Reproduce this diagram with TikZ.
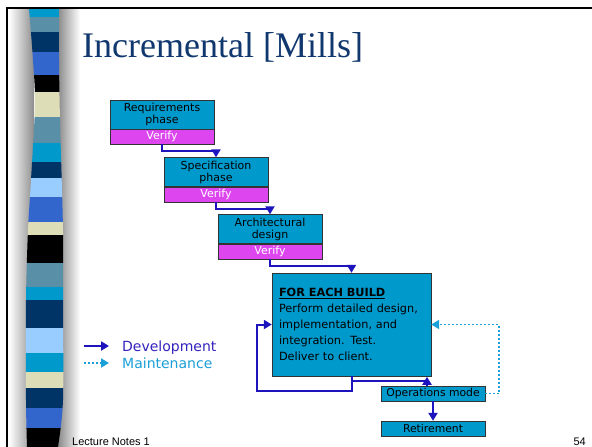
\documentclass[tikz,border=0pt]{standalone}
\usepackage{fontspec}
\usepackage{xcolor}
\usepackage{tikz}
\usetikzlibrary{arrows.meta,calc}

\newfontfamily\boxfont{DejaVu Sans}
\newfontfamily\titlefont{Liberation Serif}
\newfontfamily\footfont{Liberation Sans}

\definecolor{boxcyan}{RGB}{0,153,204}
\definecolor{verifymag}{RGB}{221,70,238}
\definecolor{devblue}{RGB}{30,20,190}
\definecolor{devtext}{RGB}{50,34,190}
\definecolor{maintblue}{RGB}{26,160,216}
\definecolor{titleblue}{RGB}{16,56,110}
\definecolor{ststeel}{RGB}{90,143,168}
\definecolor{stnavy}{RGB}{0,51,102}
\definecolor{stblue}{RGB}{51,102,204}
\definecolor{stbeige}{RGB}{221,221,184}
\definecolor{stlight}{RGB}{153,204,255}

\begin{document}
\begin{tikzpicture}[x=1pt,y=-1pt,
    phase/.style={draw=black!80, fill=boxcyan, minimum width=104pt, minimum height=29pt,
      inner sep=0pt, align=center, font=\boxfont\fontsize{11}{12}\selectfont},
    verify/.style={draw=black!80, fill=verifymag, minimum width=104pt, minimum height=15pt,
      inner sep=0pt, text=white, font=\boxfont\fontsize{11}{12}\selectfont},
    stage/.style={draw=black!80, fill=boxcyan, minimum width=104pt, minimum height=15pt,
      inner sep=0pt, font=\boxfont\fontsize{10.8}{12}\selectfont},
    buildbox/.style={draw=black!80, fill=boxcyan, text width=145pt, inner xsep=7pt,
      minimum height=103pt, align=left, font=\boxfont\fontsize{11.3}{16}\selectfont},
    dev/.style={draw=devblue, line width=2pt, -{Triangle[length=8pt,width=9pt]}},
    maint/.style={draw=maintblue, line width=1.8pt, dash pattern=on 2pt off 2pt,
      -{Triangle[length=8pt,width=9pt]}},
    legend/.style={inner sep=0pt, anchor=base west, font=\boxfont\fontsize{14}{16}\selectfont}]
    \useasboundingbox (0,0) rectangle (592,447);
    % slide frame and stripe
    \fill[white] (0,0) rectangle (592,447);
    \shade[left color=white, right color=black!45] (9,8) rectangle (34,447);
    \shade[left color=black!50, right color=white] (56,8) rectangle (80,447);
    \begin{scope}
        \clip plot[smooth] coordinates {(29,8) (33,60) (35,105) (31,180) (28,230) (26,300) (26,400) (27,447)}
            -- plot[smooth] coordinates {(58,447) (63,400) (63,300) (63,230) (60,120) (59,60) (59,8)} -- cycle;
        \foreach \ya/\yb/\col in {8/17/boxcyan, 17/32/ststeel, 32/52/stnavy, 52/75/stblue,
            75/92/black, 92/117/stbeige, 117/143/ststeel, 143/162/boxcyan, 162/178/stnavy,
            178/197/stlight, 197/222/stblue, 222/235/stbeige, 235/263/black, 263/287/ststeel,
            287/300/boxcyan, 300/328/stnavy, 328/353/stlight, 353/372/boxcyan, 372/388/stbeige,
            388/408/stnavy, 408/428/stblue, 428/447/black}
            \fill[\col] (20,\ya) rectangle (70,\yb);
    \end{scope}
    \draw[line width=2pt] (7,447) -- (7,8) -- (592,8);

    % title and footer
    \node[anchor=base west, inner sep=0pt, text=titleblue, font=\titlefont\fontsize{36}{40}\selectfont]
        (title) at (82,57) {Incremental [Mills]};
    \node[anchor=base west, inner sep=0pt, font=\footfont\fontsize{11}{13}\selectfont]
        (notes) at (72,445) {Lecture Notes 1};
    \node[anchor=base east, inner sep=0pt, font=\footfont\fontsize{11}{13}\selectfont]
        (page) at (586,445) {54};

    % phases
    \node[phase] (req) at (162,114.5) {Requirements\\phase};
    \node[verify] (reqv) at (162,136.5) {Verify};
    \node[phase] (spec) at (216,172) {Specification\\phase};
    \node[verify] (specv) at (216,194.5) {Verify};
    \node[phase] (arch) at (270,229) {Architectural\\design};
    \node[verify] (archv) at (270,251.5) {Verify};
    \node[buildbox] (build) at (351.5,324.5) {\underline{\textbf{FOR EACH BUILD}}\\
        Perform detailed design,\\implementation, and\\integration. Test.\\Deliver to client.};
    \node[stage] (ops) at (433,393.5) {Operations mode};
    \node[stage] (retire) at (433,428.5) {Retirement};

    % development
    \draw[dev] (reqv.south) -- ++(0,7) -| (spec.north);
    \draw[dev] (specv.south) -- ++(0,7) -| (arch.north);
    \draw[dev] (archv.south) -- ++(0,7) -| (build.north);
    \draw[dev] (build.south) -- ++(0,15) -| ($(build.west)+(-15,0)$) -- (build.west);
    \draw[devblue, line width=2pt] (build.south) |- ($(ops.north)+(-6,-5)$);
    \draw[dev] ($(ops.north)+(-6,0)$) -- ++(0,-9);
    \draw[dev] (ops.south) -- (retire.north);
    % maintenance
    \draw[maint] (ops.east) -- ++(14,0) |- (build.east);

    % legend
    \coordinate (devstart) at (84,346);
    \coordinate (maintstart) at (84,363);
    \draw[dev] (devstart) -- ++(25,0);
    \draw[maint] (maintstart) -- ++(25,0);
    \node[legend, text=devtext] (devlabel) at (122,351) {Development};
    \node[legend, text=maintblue] (maintlabel) at (122,368) {Maintenance};
\end{tikzpicture}
\end{document}
